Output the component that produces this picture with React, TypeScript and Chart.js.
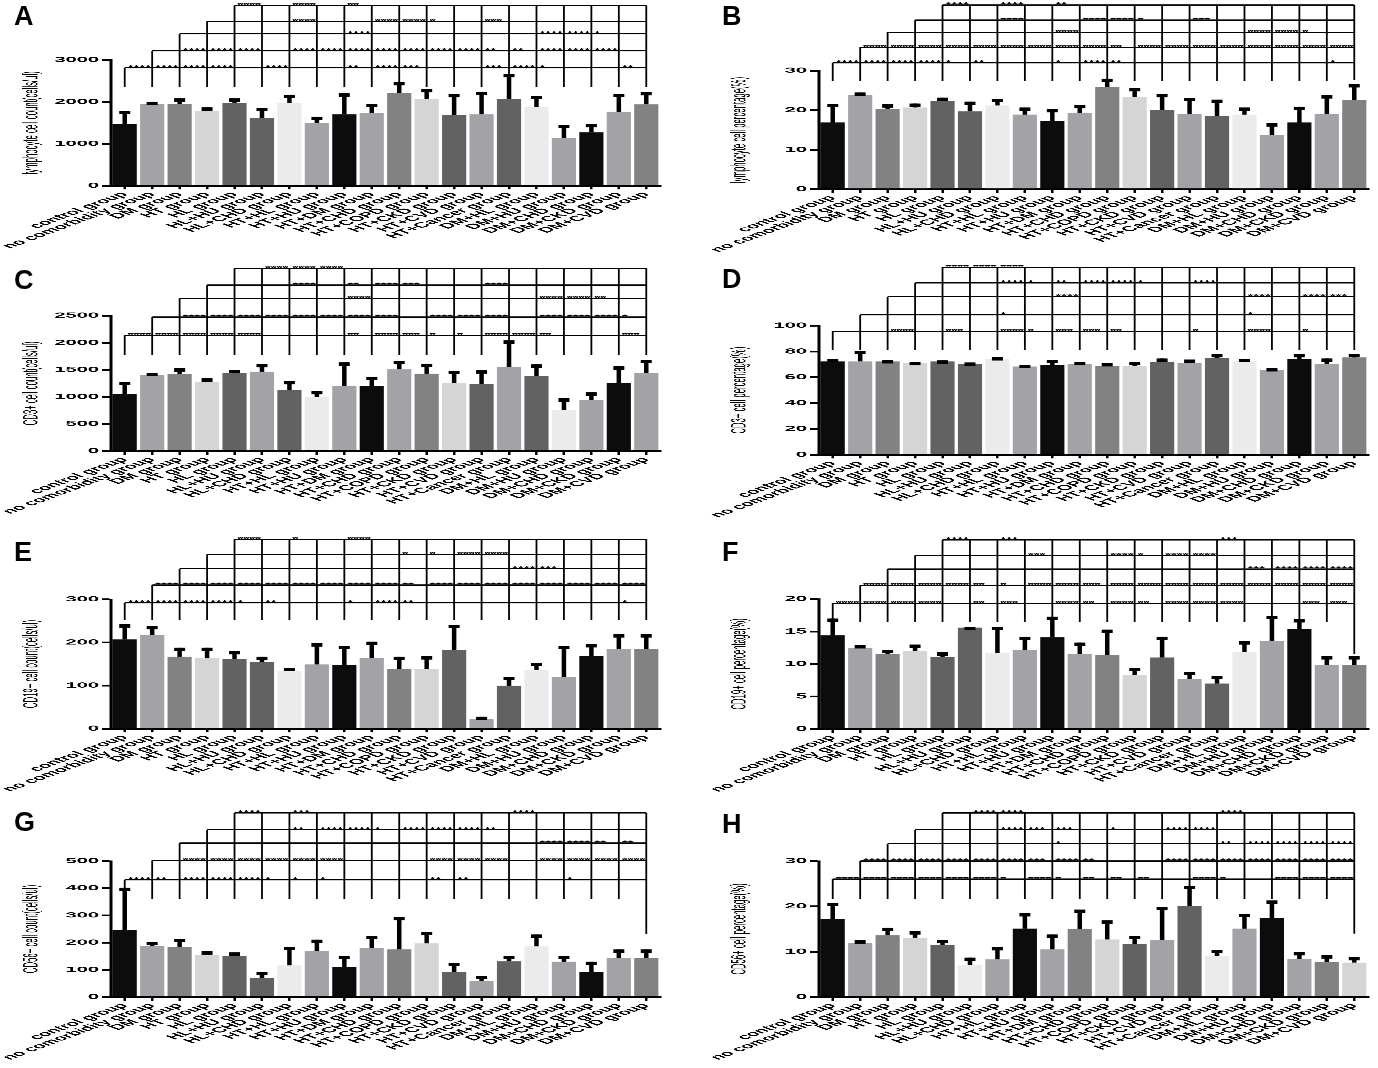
import React, { useEffect, useRef } from 'react';
import { Chart, registerables } from 'chart.js';

Chart.register(...registerables);

const FONT = '"Liberation Sans", Arial, sans-serif';
const SQUASH = 0.37; // vertical compression of the original figure
const COL_X = [0, 708];
const PANEL_W = 670;
const CHART_LEFT = 111;
const CHART_RIGHT = 660;

const CATEGORIES = [
  'control group', 'no comorbidity group', 'DM group', 'HT group', 'HL group',
  'HL+HU group', 'HL+CHD group', 'HT+HL group', 'HT+HU group', 'HT+DM group',
  'HT+CHD group', 'HT+COPD group', 'HT+CKD group', 'HT+CVD group', 'HT+Cancer group',
  'DM+HL group', 'DM+HU group', 'DM+CHD group', 'DM+CKD group', 'DM+CVD group',
];

// ---- A: lymphocyte count
const A_VALUES = [1472, 1949, 1949, 1790, 1981, 1623, 1981, 1488, 1702, 1742, 2220, 2076, 1687, 1702, 2068, 1885, 1130, 1273, 1766, 1941];
const A_SD = [318, 56, 135, 80, 103, 239, 191, 159, 502, 215, 254, 231, 501, 541, 597, 263, 326, 199, 430, 294];
const A_TICKS = [0, 3000, 1000];
const A_LEVELS = [2817, 3221, 3626, 3921, 4302];
const A_STARS = [
  '0:4 1:4 2:4 3:4 5:4 8:2 9:4 10:3 13:3 14:4 15:1 18:2',
  '2:4 3:4 4:4 6:4 7:4 8:4 9:4 10:4 11:4 12:4 13:2 14:2 15:4 16:4 17:4',
  '8:4 15:4 16:4 17:1',
  '6:4 9:4 10:4 11:1 13:3',
  '4:4 6:4 8:2',
];

// ---- B: lymphocyte percentage
const B_VALUES = [16.9, 23.9, 20.3, 20.7, 22.3, 19.7, 21.2, 18.9, 17.2, 19.3, 25.9, 23.3, 20.1, 19.0, 18.6, 18.9, 13.7, 16.9, 19.0, 22.6];
const B_SD = [4.7, 0.6, 1.2, 1.0, 0.9, 2.5, 1.7, 1.8, 3.1, 2.0, 2.1, 2.3, 4.0, 4.1, 4.1, 1.8, 3.0, 4.0, 4.8, 4.0];
const B_TICKS = [0, 30, 10];
const B_LEVELS = [32.0, 35.9, 39.7, 42.8, 46.6];
const B_STARS = [
  '0:4 1:4 2:4 3:4 4:1 5:2 8:1 9:4 10:2 18:1',
  '1:4 2:4 3:4 4:4 5:4 6:4 7:4 8:4 9:4 10:2 11:4 12:4 13:4 14:4 15:4 16:4 17:4 18:4',
  '8:4 15:4 16:4 17:1',
  '6:4 9:4 10:4 11:1 13:3',
  '4:4 6:4 8:2',
];

// ---- C: CD3+ count
const C_VALUES = [1053, 1404, 1422, 1275, 1435, 1466, 1127, 998, 1207, 1201, 1509, 1429, 1250, 1238, 1552, 1392, 757, 942, 1262, 1447];
const C_SD = [222, 43, 105, 67, 61, 141, 166, 110, 431, 172, 154, 184, 234, 252, 492, 209, 216, 142, 302, 240];
const C_TICKS = [0, 2500, 500];
const C_LEVELS = [2137, 2475, 2820, 3066, 3374];
const C_STARS = [
  '0:4 1:4 2:4 3:4 4:4 8:2 9:4 10:3 11:1 12:1 13:4 14:4 15:2 18:3',
  '2:4 3:4 4:4 5:4 6:4 7:4 8:4 9:4 11:4 12:4 13:4 15:4 16:4 17:4 18:1',
  '8:4 15:4 16:4 17:2',
  '6:4 8:2 9:4 10:3 13:4',
  '5:4 6:4 7:4',
];

// ---- D: CD3+ percentage
const D_VALUES = [72.3, 72.3, 72.3, 71.0, 72.3, 70.2, 74.1, 68.4, 69.7, 70.2, 68.9, 68.9, 71.8, 71.2, 74.9, 72.8, 65.8, 74.4, 70.2, 75.4];
const D_SD = [2.1, 8.3, 1.0, 0.8, 0.8, 1.3, 1.5, 1.3, 3.9, 1.6, 2.1, 2.9, 2.8, 2.6, 3.1, 1.6, 1.3, 3.6, 4.4, 2.8];
const D_TICKS = [0, 100, 20];
const D_LEVELS = [95.6, 108.5, 122.5, 133.2, 145.3];
const D_STARS = [
  '2:4 4:3 6:4 7:1 8:3 9:3 10:2 13:1 15:4 17:1',
  '6:1 15:1',
  '8:4 15:4 17:4 18:3',
  '6:4 7:1 8:2 9:4 10:4 11:1 13:4',
  '4:4 5:4 6:4',
];

// ---- E: CD19+ count
const E_VALUES = [207, 217, 167, 163, 161, 154, 134, 149, 148, 164, 139, 139, 182, 22, 100, 136, 120, 168, 185, 185];
const E_SD = [35, 21, 21, 25, 19, 13, 7, 49, 44, 38, 28, 29, 59, 6, 20, 17, 72, 28, 34, 34];
const E_TICKS = [0, 300, 100];
const E_LEVELS = [292, 333, 371, 404, 439];
const E_STARS = [
  '0:4 1:4 2:4 3:4 4:1 5:2 8:1 9:4 10:2 18:1',
  '1:4 2:4 3:4 4:4 5:4 6:4 7:4 8:4 9:4 10:2 11:4 12:4 13:4 14:4 15:4 16:4 17:4 18:4',
  '14:4 15:3',
  '10:1 11:1 12:4 13:4',
  '4:4 6:1 8:4',
];

// ---- F: CD19+ percentage
const F_VALUES = [14.4, 12.5, 11.5, 12.0, 11.1, 15.6, 11.7, 12.2, 14.1, 11.6, 11.4, 8.3, 11.0, 7.7, 7.0, 11.8, 13.6, 15.4, 9.8, 9.8];
const F_SD = [2.6, 0.4, 0.7, 1.0, 0.7, 0.1, 4.0, 2.0, 3.2, 1.7, 3.9, 1.1, 3.2, 1.1, 1.2, 1.7, 3.8, 1.5, 1.4, 1.4];
const F_TICKS = [0, 20, 5];
const F_LEVELS = [19.33, 22.1, 24.6, 26.7, 29.1];
const F_STARS = [
  '0:4 1:4 2:4 3:4 5:2 6:3 8:4 9:2 10:4 11:2 12:4 13:4 14:4 17:3 18:3',
  '1:4 2:4 3:4 4:4 5:2 6:1 7:4 8:4 9:3 10:4 11:4 12:4 13:4 14:4 15:4 16:4 17:4 18:4',
  '15:3 16:4 17:4 18:4',
  '7:3 10:4 11:1 12:4 13:4',
  '4:4 6:3 14:3',
];

// ---- G: CD56+ count
const G_VALUES = [247, 187, 184, 153, 151, 70, 116, 168, 111, 180, 175, 197, 93, 59, 131, 186, 130, 93, 143, 143];
const G_SD = [155, 16, 30, 15, 13, 22, 68, 43, 41, 45, 119, 43, 33, 19, 21, 44, 21, 37, 32, 32];
const G_TICKS = [0, 500, 100];
const G_LEVELS = [431, 502, 566, 615, 677];
const G_STARS = [
  '0:4 1:2 2:4 3:4 4:4 5:1 6:1 7:1 11:2 12:2 16:1',
  '2:4 3:4 4:4 5:4 6:4 7:4 11:4 12:4 13:4 15:4 16:4 17:4 18:4',
  '15:4 16:4 17:2 18:2',
  '6:2 7:4 8:4 9:1 10:4 11:4 12:4 13:2',
  '4:4 6:3 14:4',
];

// ---- H: CD56+ percentage
const H_VALUES = [17.3, 11.9, 13.6, 13.1, 11.5, 7.0, 8.3, 15.1, 10.5, 15.0, 12.7, 11.7, 12.5, 20.0, 9.1, 15.1, 17.5, 8.4, 7.7, 7.6];
const H_SD = [3.5, 0.6, 1.7, 1.4, 1.1, 1.7, 2.7, 3.4, 3.3, 4.3, 4.2, 1.8, 7.4, 4.5, 1.3, 3.3, 3.8, 1.5, 1.5, 1.2];
const H_TICKS = [0, 30, 10];
const H_LEVELS = [26.0, 30.0, 33.8, 36.9, 40.6];
const H_STARS = [
  '0:4 1:4 2:4 3:4 4:4 5:4 6:1 7:4 8:1 9:2 10:2 11:2 13:4 14:1 16:4 17:4 18:4',
  '1:4 2:4 3:4 4:4 5:4 6:4 7:3 8:4 9:2 12:4 13:4 14:4 15:4 16:4 17:4 18:4',
  '8:1 14:2 15:4 16:4 17:4 18:4',
  '6:4 7:3 8:3 10:1 12:4 13:4',
  '5:4 6:4 14:4',
];

// ---- bar colour palettes (styles)
const K = '#0c0c0c', G1 = '#a3a3a7', G2 = '#828282', G3 = '#d5d5d5', G4 = '#626262', G5 = '#ebebeb';
const PAL_STD = [K, G1, G2, G3, G4, G4, G5, G1, K, G1, G2, G3, G4, G1, G4, G5, G1, K, G1, G2];
const PAL_C = [K, G1, G2, G3, G4, G1, G4, G5, G1, K, G1, G2, G3, G4, G1, G4, G5, G1, K, G1];
const PAL_H = [K, G1, G2, G3, G4, G5, G1, K, G1, G2, G3, G4, G1, G4, G5, G1, K, G1, G2, G3];

type PanelSpec = {
  id: string; title: string; values: number[]; sd: number[]; ticks: number[];
  levels: number[]; stars: string[]; drop: number; lastDrop: number; colors: string[];
  col: number; T: number; Hh: number; top: number; bottom: number; letterTop: number;
};

const PANELS: PanelSpec[] = [
  { id: 'A', title: 'lymphocyte cell count(cells/ul)', values: A_VALUES, sd: A_SD, ticks: A_TICKS, levels: A_LEVELS, stars: A_STARS, drop: 2357, lastDrop: 2357, colors: PAL_STD, col: 0, T: 0, Hh: 262, top: 60, bottom: 185.7, letterTop: 3 },
  { id: 'B', title: 'lymphocyte cell percentage(%)', values: B_VALUES, sd: B_SD, ticks: B_TICKS, levels: B_LEVELS, stars: B_STARS, drop: 27.4, lastDrop: 27.6, colors: PAL_STD, col: 1, T: 0, Hh: 262, top: 70.7, bottom: 189.3, letterTop: 3 },
  { id: 'C', title: 'CD3+ cell count(cells/ul)', values: C_VALUES, sd: C_SD, ticks: C_TICKS, levels: C_LEVELS, stars: C_STARS, drop: 1773, lastDrop: 1773, colors: PAL_C, col: 0, T: 262, Hh: 258, top: 315.7, bottom: 451, letterTop: 267 },
  { id: 'D', title: 'CD3+ cell percentage(%)', values: D_VALUES, sd: D_SD, ticks: D_TICKS, levels: D_LEVELS, stars: D_STARS, drop: 81, lastDrop: 81, colors: PAL_STD, col: 1, T: 262, Hh: 258, top: 325.7, bottom: 454.7, letterTop: 266 },
  { id: 'E', title: 'CD19+ cell count(cells/ul)', values: E_VALUES, sd: E_SD, ticks: E_TICKS, levels: E_LEVELS, stars: E_STARS, drop: 252, lastDrop: 252, colors: PAL_STD, col: 0, T: 520, Hh: 280, top: 599.3, bottom: 728.7, letterTop: 539 },
  { id: 'F', title: 'CD19+ cell percentage(%)', values: F_VALUES, sd: F_SD, ticks: F_TICKS, levels: F_LEVELS, stars: F_STARS, drop: 16.5, lastDrop: 11.6, colors: PAL_STD, col: 1, T: 520, Hh: 280, top: 599, bottom: 729, letterTop: 539 },
  { id: 'G', title: 'CD56+ cell count(cells/ul)', values: G_VALUES, sd: G_SD, ticks: G_TICKS, levels: G_LEVELS, stars: G_STARS, drop: 361, lastDrop: 233, colors: PAL_STD, col: 0, T: 800, Hh: 268, top: 861, bottom: 997, letterTop: 809 },
  { id: 'H', title: 'CD56+ cell percentage(%)', values: H_VALUES, sd: H_SD, ticks: H_TICKS, levels: H_LEVELS, stars: H_STARS, drop: 21.7, lastDrop: 14.0, colors: PAL_H, col: 1, T: 800, Hh: 268, top: 861, bottom: 997, letterTop: 811 },
];

function parseStars(s: string) {
  return s.trim().split(/\s+/).filter(Boolean).map((tok) => {
    const [seg, n] = tok.split(':').map(Number);
    return { seg, text: '*'.repeat(n) };
  });
}

function makeOverlay(p: PanelSpec) {
  return {
    id: 'overlay' + p.id,
    afterDatasetsDraw(chart: any) {
      const ctx = chart.ctx;
      const ys = chart.scales.y;
      const meta = chart.getDatasetMeta(0);
      const xs: number[] = meta.data.map((el: any) => el.x);
      const n = xs.length;
      ctx.save();
      ctx.strokeStyle = '#000';
      ctx.fillStyle = '#000';
      // error bars (upper SD)
      p.values.forEach((v, i) => {
        const x = xs[i];
        const y0 = ys.getPixelForValue(v);
        const y1 = ys.getPixelForValue(v + p.sd[i]);
        ctx.lineWidth = 4.5;
        ctx.beginPath();
        ctx.moveTo(x, y0);
        ctx.lineTo(x, y1);
        ctx.stroke();
        ctx.fillRect(x - 5.5, y1, 11, 9);
      });
      // significance brackets
      const L = p.levels.length;
      const yl = p.levels.map((v) => ys.getPixelForValue(v));
      ctx.lineWidth = 3.4;
      for (let k = 0; k < L; k++) {
        ctx.beginPath();
        ctx.moveTo(xs[k], yl[k]);
        ctx.lineTo(xs[n - 1], yl[k]);
        ctx.stroke();
      }
      ctx.lineWidth = 1.8;
      for (let j = 0; j < n; j++) {
        const yt = yl[Math.min(j, L - 1)];
        const yb = ys.getPixelForValue(j === n - 1 ? p.lastDrop : p.drop);
        ctx.beginPath();
        ctx.moveTo(xs[j], yt);
        ctx.lineTo(xs[j], yb);
        ctx.stroke();
      }
      ctx.font = 'bold 15px ' + FONT;
      ctx.textAlign = 'left';
      ctx.textBaseline = 'alphabetic';
      p.stars.forEach((row, k) => {
        parseStars(row).forEach(({ seg, text }) => {
          ctx.fillText(text, xs[seg] + 3, yl[k] + 3);
        });
      });
      ctx.restore();
    },
  };
}

function PanelChart({ p }: { p: PanelSpec }) {
  const ref = useRef<HTMLCanvasElement>(null);
  const Hc = Math.round(p.Hh / SQUASH);
  useEffect(() => {
    const padTop = (p.top - p.T) / SQUASH;
    const plotH = (p.bottom - p.top) / SQUASH;
    const xAxisH = Hc - padTop - plotH;
    const [yMin, yMax, step] = p.ticks;
    const chart = new Chart(ref.current as HTMLCanvasElement, {
      type: 'bar',
      data: {
        labels: CATEGORIES,
        datasets: [{
          data: p.values,
          backgroundColor: p.colors,
          borderWidth: 0,
          barPercentage: 0.88,
          categoryPercentage: 1,
        }],
      },
      options: {
        animation: false,
        responsive: false,
        maintainAspectRatio: false,
        devicePixelRatio: 2,
        layout: { padding: { top: padTop, left: 0, right: PANEL_W - CHART_RIGHT, bottom: 0 } },
        plugins: { legend: { display: false }, tooltip: { enabled: false }, title: { display: false } },
        scales: {
          x: {
            type: 'category',
            offset: true,
            grid: { display: true, drawOnChartArea: false, drawTicks: true, tickLength: 10, offset: false, color: '#000', lineWidth: 2.5 },
            border: { display: true, color: '#000', width: 5 },
            ticks: {
              autoSkip: false, minRotation: 45, maxRotation: 45, padding: 2, color: '#000',
              font: { family: FONT, size: 20, weight: 'bold' },
            },
            afterFit: (s: any) => { s.height = xAxisH; },
          },
          y: {
            min: yMin, max: yMax,
            ticks: {
              stepSize: step, padding: 3, color: '#000',
              font: { family: FONT, size: 20, weight: 'bold' },
              callback: (v: any) => String(v),
            },
            grid: { display: true, drawOnChartArea: false, drawTicks: true, tickLength: 9, color: '#000', lineWidth: 5 },
            border: { display: true, color: '#000', width: 3 },
            title: { display: true, text: p.title, color: '#000', font: { family: FONT, size: 21 }, padding: { top: 19, bottom: 0 } },
            afterFit: (s: any) => { s.width = CHART_LEFT; },
          },
        },
      } as any,
      plugins: [makeOverlay(p)],
    });
    return () => chart.destroy();
  }, []);
  return (
    <div style={{ position: 'absolute', left: COL_X[p.col], top: p.T, width: PANEL_W, height: Hc, transform: `scaleY(${SQUASH})`, transformOrigin: '0 0' }}>
      <canvas ref={ref} width={PANEL_W} height={Hc} style={{ width: PANEL_W, height: Hc, display: 'block' }} />
    </div>
  );
}

export default function App() {
  return (
    <div style={{ position: 'absolute', left: 0, top: 0, width: 1378, height: 1068, background: '#fff', overflow: 'hidden' }}>
      {PANELS.map((p) => <PanelChart key={p.id} p={p} />)}
      {PANELS.map((p) => (
        <div key={'L' + p.id} style={{ position: 'absolute', left: COL_X[p.col] + 14, top: p.letterTop, fontFamily: FONT, fontWeight: 'bold', fontSize: 27, lineHeight: 1, color: '#000' }}>{p.id}</div>
      ))}
    </div>
  );
}
